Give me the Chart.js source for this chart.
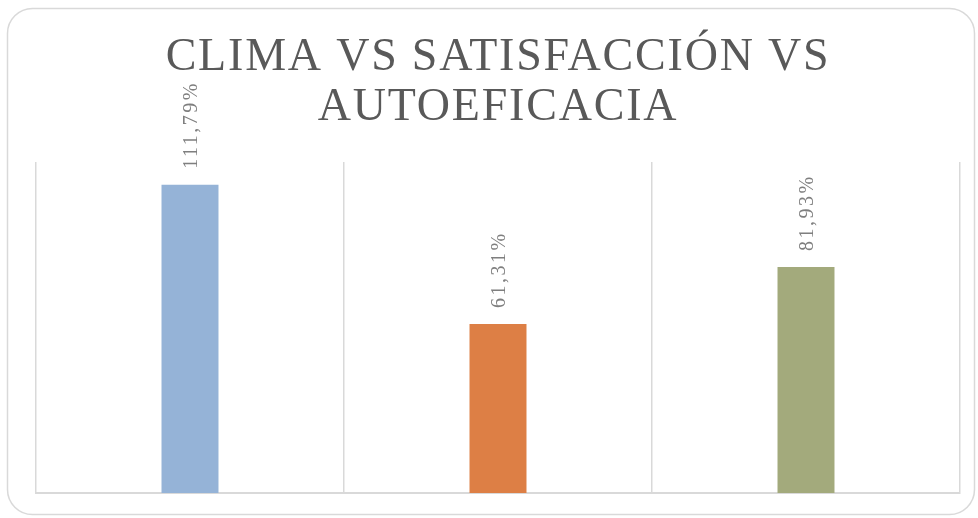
<!DOCTYPE html>
<html>
<head>
<meta charset="utf-8">
<script src="https://cdn.jsdelivr.net/npm/chart.js@4"></script>
<style>
html,body{margin:0;padding:0;background:#fff;}
#wrap{width:978px;height:518px;position:relative;}
</style>
</head>
<body>
<div id="wrap"><canvas id="c" width="978" height="518"></canvas></div>
<script>
const categories = ['Clima', 'Satisfacción', 'Autoeficacia'];
const values = [111.79, 61.31, 81.93];
const barColors = ['#95b3d7', '#dd7f45', '#a3aa7c'];
const titleLines = ['CLIMA VS SATISFACCIÓN VS', 'AUTOEFICACIA'];
const yMax = 120;

const fmt = v => v.toFixed(2).replace('.', ',') + '%';

const framePlugin = {
  id: 'frame',
  beforeDraw(chart) {
    const ctx = chart.ctx;
    ctx.save();
    ctx.fillStyle = '#fff';
    ctx.fillRect(0, 0, chart.width, chart.height);
    ctx.strokeStyle = '#d9d9d9';
    ctx.lineWidth = 1.5;
    ctx.beginPath();
    ctx.roundRect(7.5, 8.5, 967, 506, 25);
    ctx.stroke();
    ctx.restore();
  },
  afterDraw(chart) {
    const ctx = chart.ctx;
    const area = chart.chartArea;
    // title
    ctx.save();
    ctx.fillStyle = '#595959';
    ctx.font = '46px "Liberation Serif", serif';
    ctx.letterSpacing = '1.8px';
    ctx.textAlign = 'center';
    ctx.textBaseline = 'alphabetic';
    const cx = (area.left + area.right) / 2;
    ctx.fillText(titleLines[0], cx, 70);
    ctx.fillText(titleLines[1], cx, 120);
    ctx.restore();
    // data labels
    const meta = chart.getDatasetMeta(0);
    ctx.save();
    ctx.fillStyle = '#7f7f7f';
    ctx.font = '20px "Liberation Serif", serif';
    ctx.letterSpacing = '2.5px';
    ctx.textAlign = 'left';
    ctx.textBaseline = 'alphabetic';
    meta.data.forEach((el, i) => {
      ctx.save();
      ctx.translate(el.x + 7, el.y - 16);
      ctx.rotate(-Math.PI / 2);
      ctx.fillText(fmt(values[i]), 0, 0);
      ctx.restore();
    });
    ctx.restore();
  }
};

new Chart(document.getElementById('c'), {
  type: 'bar',
  data: {
    labels: categories,
    datasets: [{
      data: values,
      backgroundColor: barColors,
      borderWidth: 0,
      categoryPercentage: 1,
      barPercentage: 0.185
    }]
  },
  options: {
    responsive: false,
    animation: false,
    devicePixelRatio: 1,
    layout: { padding: { left: 36, right: 18, top: 162, bottom: 25 } },
    plugins: { legend: { display: false }, title: { display: false }, tooltip: { enabled: false } },
    scales: {
      x: {
        display: true,
        offset: true,
        ticks: { display: false },
        grid: { display: true, offset: true, color: '#d9d9d9', lineWidth: 1.5, drawTicks: false },
        border: { display: true, color: '#d9d9d9', width: 2 }
      },
      y: {
        display: false,
        min: 0,
        max: yMax
      }
    }
  },
  plugins: [framePlugin]
});
</script>
</body>
</html>
